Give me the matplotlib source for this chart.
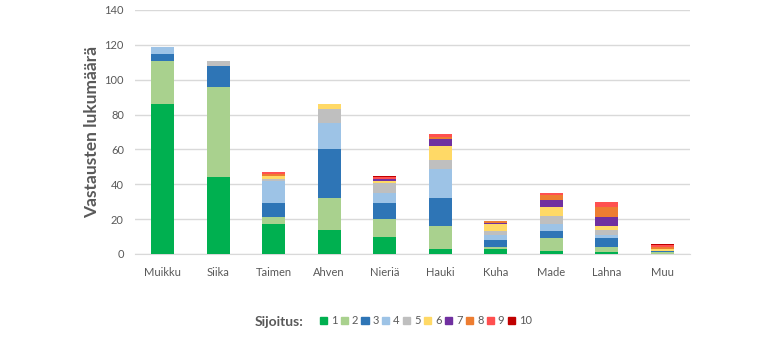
import numpy as np
import matplotlib
matplotlib.use('Agg')
import matplotlib.pyplot as plt
from matplotlib.patches import Patch

plt.rcParams['font.family'] = ['Lato', 'DejaVu Sans']

species = ["Muikku", "Siika", "Taimen", "Ahven", "Nieriä", "Hauki", "Kuha", "Made", "Lahna", "Muu"]
ranks = ["1", "2", "3", "4", "5", "6", "7", "8", "9", "10"]

# counts per rank (1..10), one list per rank, values follow species order
rank1 = [86, 44, 17, 14, 10, 3, 3, 2, 1, 0]
rank2 = [25, 52, 4, 18, 10, 13, 1, 7, 3, 1]
rank3 = [4, 12, 8, 28, 9, 16, 4, 4, 5, 1]
rank4 = [4, 0, 13, 15, 6, 17, 3, 4, 2, 0]
rank5 = [0, 3, 1, 8, 6, 5, 2, 5, 3, 0]
rank6 = [0, 0, 2, 3, 1, 8, 4, 5, 2, 1]
rank7 = [0, 0, 0, 0, 1, 4, 1, 4, 5, 0]
rank8 = [0, 0, 1, 0, 0, 1, 1, 3, 6, 1]
rank9 = [0, 0, 1, 0, 1, 2, 0, 1, 3, 1]
rank10 = [0, 0, 0, 0, 1, 0, 0, 0, 0, 1]
series = [rank1, rank2, rank3, rank4, rank5, rank6, rank7, rank8, rank9, rank10]

colors = ["#00B050", "#A9D18E", "#2E75B6", "#9DC3E6", "#BFBFBF",
          "#FFD966", "#7030A0", "#ED7D31", "#FF5050", "#C00000"]

grey = "#595959"

fig = plt.figure(figsize=(7.73, 3.44), dpi=100)
ax = fig.add_axes([135/773, 1 - 254/344, 555/773, 244/344])

x = np.arange(len(species))
bottom = np.zeros(len(species))
for vals, c in zip(series, colors):
    ax.bar(x, vals, width=0.42, bottom=bottom, color=c, zorder=3)
    bottom += np.array(vals)

ax.set_xlim(-0.5, len(species) - 0.5)
ax.set_ylim(0, 140)
ax.set_yticks(range(0, 141, 20))
ax.set_xticks(x)
ax.set_xticklabels(species)
ax.grid(axis='y', color='#D9D9D9', linewidth=1, zorder=0)
for s in ["top", "right", "left"]:
    ax.spines[s].set_visible(False)
ax.spines["bottom"].set_color('#D9D9D9')
ax.tick_params(axis='both', length=0, colors=grey, labelsize=8)
ax.tick_params(axis='x', pad=9)
ax.tick_params(axis='y', pad=8)
ax.set_ylabel("Vastausten lukumäärä", fontsize=12.5, fontweight='bold', color=grey, labelpad=3)

fig.text(255/773, 1 - 322/344, "Sijoitus:", fontsize=10, fontweight='bold', color=grey, va='center')
handles = [Patch(color=c, label=r) for c, r in zip(colors, ranks)]
leg = fig.legend(handles=handles, ncol=10, loc='center left',
                 bbox_to_anchor=(314/773, 1 - 321/344), frameon=False,
                 fontsize=8, handlelength=0.65, handleheight=0.65,
                 handletextpad=0.35, columnspacing=0.3, borderpad=0)
for t in leg.get_texts():
    t.set_color(grey)

fig.savefig("out.png", dpi=100)
